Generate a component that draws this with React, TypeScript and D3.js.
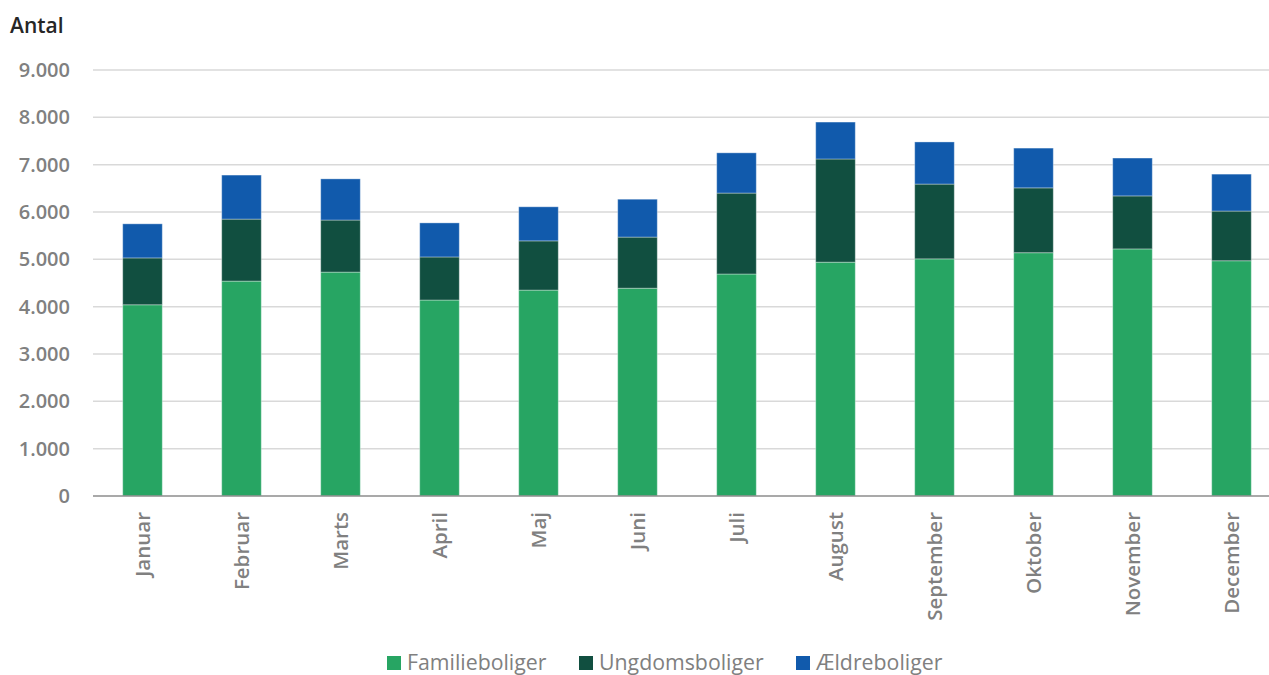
import React from "react";
import * as d3 from "d3";

const months = ["Januar","Februar","Marts","April","Maj","Juni","Juli","August","September","Oktober","November","December"];
const familieboliger = [4040, 4540, 4730, 4140, 4350, 4390, 4690, 4940, 5010, 5140, 5220, 4970];
const ungdomsboliger = [990, 1310, 1100, 910, 1040, 1080, 1710, 2180, 1580, 1370, 1120, 1050];
const aeldreboliger = [720, 930, 870, 720, 720, 800, 850, 780, 890, 840, 800, 780];
const seriesNames = ["Familieboliger", "Ungdomsboliger", "Ældreboliger"];
const colors = ["#27a563", "#114f40", "#115aac"];
const yTicks = [0, 1000, 2000, 3000, 4000, 5000, 6000, 7000, 8000, 9000];

export default function App() {
  const W = 1269, H = 675;
  const x = d3.scaleBand<string>().domain(months).range([93, 1281]).paddingInner(0.6).paddingOuter(0.3);
  const y = d3.scaleLinear().domain([0, 9000]).range([496, 70]);
  const rows = months.map((m, i) => ({ month: m, Familieboliger: familieboliger[i], Ungdomsboliger: ungdomsboliger[i], "Ældreboliger": aeldreboliger[i] }));
  const stacked = d3.stack<any>().keys(seriesNames)(rows);
  const fmt = (v: number) => d3.format(",")(v).replace(/,/g, ".");
  const font = "'Open Sans', sans-serif";
  const legendX = [387, 579, 796];
  return (
    <svg width={W} height={H} style={{ position: "absolute", left: 0, top: 0 }} fontFamily={font}>
      <rect width={W} height={H} fill="#fff" />
      <text x={10} y={33} fontSize={21} fontWeight={600} fill="#262626">Antal</text>
      {yTicks.map(t => (
        <g key={t}>
          {t > 0 && <line x1={93} x2={W} y1={y(t)} y2={y(t)} stroke="#d9d9d9" strokeWidth={1.5} />}
          <text x={70} y={y(t)} dy="0.35em" textAnchor="end" fontSize={20} fontWeight={600} fill="#808080">{fmt(t)}</text>
        </g>
      ))}
      {stacked.map((s, si) => (
        <g key={si} fill={colors[si]}>
          {s.map((d, i) => (
            <rect key={i} x={x(months[i])} width={x.bandwidth()} y={y(d[1])} height={y(d[0]) - y(d[1])}
              stroke="rgba(255,255,255,0.35)" strokeWidth={1} />
          ))}
        </g>
      ))}
      <line x1={93} x2={W} y1={496} y2={496} stroke="#8c8c8c" strokeWidth={1.5} />
      {months.map(m => {
        const cx = (x(m) as number) + x.bandwidth() / 2;
        return (
          <text key={m} transform={`translate(${cx},512) rotate(-90)`} textAnchor="end" dy="0.35em"
            fontSize={20.5} fontWeight={600} fill="#808080">{m}</text>
        );
      })}
      {seriesNames.map((n, i) => (
        <g key={n}>
          <rect x={legendX[i]} y={656} width={14} height={14} fill={colors[i]} />
          <text x={legendX[i] + 20} y={669.5} fontSize={21.3} fill="#808080">{n}</text>
        </g>
      ))}
    </svg>
  );
}
